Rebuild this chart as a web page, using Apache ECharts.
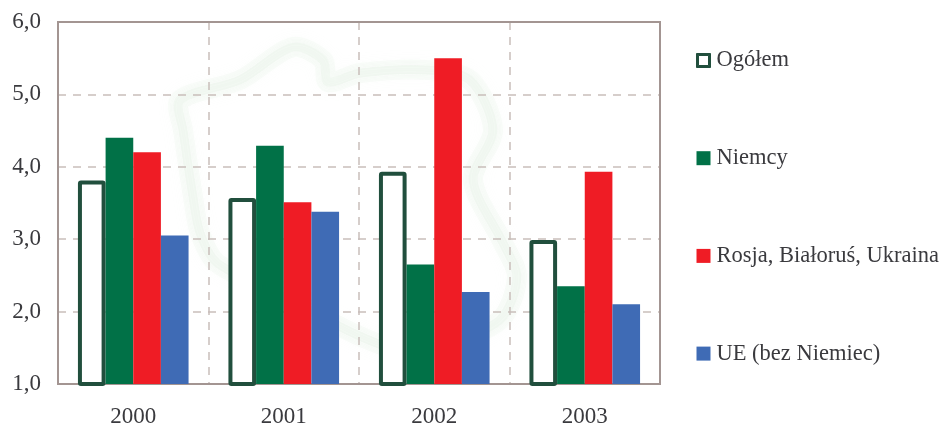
<!DOCTYPE html>
<html><head><meta charset="utf-8"><style>html,body{margin:0;padding:0;background:#fff}#c{width:941px;height:423px}</style>
<script src="https://cdn.jsdelivr.net/npm/echarts@6/dist/echarts.min.js"></script></head>
<body><div id="c"></div><script>
const categories = ['2000','2001','2002','2003'];
const yTicks = {min:1,max:6,interval:1};
const ogolem = [3.81,3.57,3.93,2.99];
const niemcy = [4.4,4.29,2.65,2.35];
const rosja = [4.2,3.51,5.5,3.93];
const ue = [3.05,3.38,2.27,2.1];
const textColor = '#3a3a3e', font = '"Liberation Serif", serif', fs = 22.5;
const chart = echarts.init(document.getElementById('c'),null,{renderer:'canvas'});
const grid = '#c9bfbb';
const base = {type:'bar',barGap:0,barCategoryGap:'26.5%'};
const outline = [[180,100],[240,80],[293,47],[323,60],[328,82],[360,73],[427,70],[470,80],[493,130],[473,180],[503,243],[517,277],[500,320],[440,345],[400,350],[353,333],[290,300],[217,263],[200,233],[193,197],[183,130]];
chart.setOption({
  animation:false,
  textStyle:{fontFamily:font},
  grid:{left:58,top:22,width:602,height:362,show:false,outerBoundsMode:'none'},
  legend:{orient:'vertical',left:696,top:49,padding:0,itemWidth:14,itemHeight:14,itemGap:74.7,
    textStyle:{fontFamily:font,fontSize:fs,color:textColor,padding:[0,0,0,1]},
    data:[
      {name:'Ogółem',icon:'path://M0 0H14V14H0Z M2 2V12H12V2Z',itemStyle:{color:'#214f3d',borderColor:'#214f3d',borderWidth:1}},
      {name:'Niemcy',icon:'rect'},{name:'Rosja, Białoruś, Ukraina',icon:'rect'},{name:'UE (bez Niemiec)',icon:'rect'}]},
  xAxis:{type:'category',data:categories,
    axisLine:{show:true,lineStyle:{color:'#a39592',width:2}},axisTick:{show:false},
    axisLabel:{fontFamily:font,fontSize:23,color:textColor,margin:21},
    splitLine:{show:true,lineStyle:{color:grid,type:[8,7],width:1.5}},splitArea:{show:false}},
  yAxis:{type:'value',min:yTicks.min,max:yTicks.max,interval:yTicks.interval,
    axisLine:{show:true,lineStyle:{color:'#a39592',width:2}},axisTick:{show:false},
    axisLabel:{fontFamily:font,fontSize:23,color:textColor,margin:17,formatter:v=>v.toFixed(1).replace('.',',')},
    splitLine:{show:true,lineStyle:{color:grid,type:[8,7],width:1.5}}},
  series:[
    {...base,name:'Ogółem',data:ogolem,z:2,itemStyle:{color:'#fff',borderColor:'#214f3d',borderWidth:4,borderRadius:1}},
    {...base,name:'Niemcy',data:niemcy,z:3,itemStyle:{color:'#017147'}},
    {...base,name:'Rosja, Białoruś, Ukraina',data:rosja,z:3,itemStyle:{color:'#ef1c25'}},
    {...base,name:'UE (bez Niemiec)',data:ue,z:3,itemStyle:{color:'#3f6bb5'}}
  ],
  graphic:[
    {type:'polygon',z:-2,silent:true,shape:{smooth:0.3,points:outline},
     style:{fill:'none',stroke:'rgba(215,235,218,0.16)',lineWidth:20,shadowBlur:14,shadowColor:'rgba(215,235,218,0.35)'}},
    {type:'polygon',z:-1,silent:true,shape:{smooth:0.3,points:outline},
     style:{fill:'none',stroke:'rgba(215,232,218,0.18)',lineWidth:9,shadowBlur:10,shadowColor:'rgba(215,232,218,0.3)'}},
    {type:'rect',z:1,silent:true,shape:{x:58,y:22,width:602,height:362},style:{fill:'none',stroke:'#a39592',lineWidth:2}}
  ]
});
</script></body></html>
